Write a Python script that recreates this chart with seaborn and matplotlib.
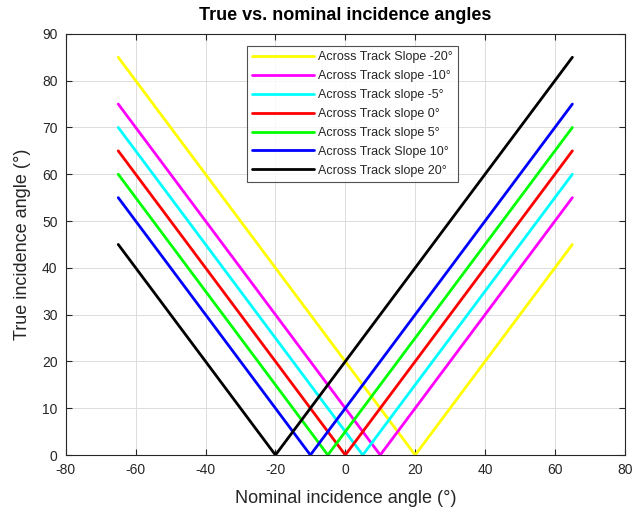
import matplotlib
matplotlib.use("Agg")
import matplotlib.pyplot as plt
import seaborn as sns
import pandas as pd

# nominal incidence angle at the ends and at the vertex of each V
slopes = [-20, -10, -5, 0, 5, 10, 20]
labels = ["Across Track Slope -20°", "Across Track slope -10°", "Across Track slope -5°",
          "Across Track slope 0°", "Across Track slope 5°", "Across Track Slope 10°",
          "Across Track slope 20°"]
colors = ["#ffff00", "#ff00ff", "#00ffff", "#ff0000", "#00ff00", "#0000ff", "#000000"]
nominal = {
    -20: [-65, 20, 65],
    -10: [-65, 10, 65],
    -5: [-65, 5, 65],
    0: [-65, 0, 65],
    5: [-65, -5, 65],
    10: [-65, -10, 65],
    20: [-65, -20, 65],
}
true_angle = {
    -20: [85, 0, 45],
    -10: [75, 0, 55],
    -5: [70, 0, 60],
    0: [65, 0, 65],
    5: [60, 0, 70],
    10: [55, 0, 75],
    20: [45, 0, 85],
}

rows = []
for s, lab in zip(slopes, labels):
    for x, y in zip(nominal[s], true_angle[s]):
        rows.append({"nominal": x, "true": y, "series": lab})
df = pd.DataFrame(rows)

sns.set_style("white")
plt.rcParams['font.family'] = ['Liberation Sans', 'DejaVu Sans']
plt.rcParams['axes.unicode_minus'] = False

fig = plt.figure(figsize=(6.33, 5.13), dpi=100)
ax = fig.add_axes([0.104, 0.113, 0.883, 0.821])

sns.lineplot(data=df, x="nominal", y="true", hue="series", hue_order=labels,
             palette=colors, linewidth=2, sort=False, ax=ax)

ax.set_xlim(-80, 80)
ax.set_ylim(0, 90)
ax.set_xticks(range(-80, 81, 20))
ax.set_yticks(range(0, 91, 10))
ax.grid(True, color="#dcdcdc", linewidth=0.7)
ax.tick_params(axis="both", labelsize=10, colors="#262626", direction="in", length=4,
               pad=6, top=True, right=True, bottom=True, left=True)
for sp in ax.spines.values():
    sp.set_color("#262626")
    sp.set_linewidth(0.8)

ax.set_xlabel("Nominal incidence angle (°)", fontsize=13, color="#262626", labelpad=9)
ax.set_ylabel("True incidence angle (°)", fontsize=13, color="#262626", labelpad=8)
ax.set_title("True vs. nominal incidence angles", fontsize=13, fontweight="bold",
             color="#000000", pad=10)

leg = ax.legend(loc="upper left", bbox_to_anchor=(0.324, 0.97), fontsize=9, frameon=True,
                fancybox=False, edgecolor="#262626", handlelength=5.0, labelspacing=0.55,
                borderpad=0.4, handletextpad=0.3, borderaxespad=0)
leg.get_frame().set_linewidth(0.8)

fig.savefig("out.png", dpi=100)
